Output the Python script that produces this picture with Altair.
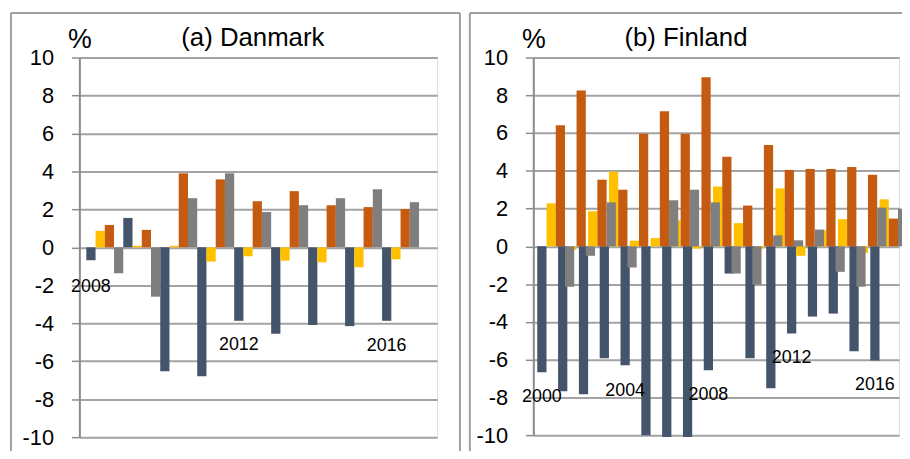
import altair as alt
import pandas as pd

series = ["s1", "s2", "s3", "s4"]
colors = ["#44546A", "#FFC000", "#C55A11", "#7F7F7F"]

dk_years = [2008, 2009, 2010, 2011, 2012, 2013, 2014, 2015, 2016]
dk_s1 = [-0.68, 1.55, -6.53, -6.79, -3.87, -4.55, -4.09, -4.15, -3.87]
dk_s2 = [0.87, 0.08, 0.08, -0.75, -0.47, -0.70, -0.79, -1.05, -0.63]
dk_s3 = [1.18, 0.92, 3.90, 3.58, 2.43, 2.96, 2.22, 2.12, 2.02]
dk_s4 = [-1.36, -2.60, 2.59, 3.90, 1.86, 2.22, 2.59, 3.06, 2.38]
dk_lab_years = [2008, 2012, 2016]
dk_lab_y = [-2.07, -5.17, -5.19]

fi_years = list(range(2000, 2017))
fi_s1 = [-6.67, -7.67, -7.83, -5.93, -6.30, -10.0, -10.1, -10.1, -6.56, -1.44,
         -5.93, -7.51, -4.61, -3.72, -3.56, -5.56, -6.04]
fi_s2 = [2.28, -0.17, 1.86, 3.96, 0.30, 0.44, 1.38, -0.12, 3.17, 1.23,
         -0.12, 3.07, -0.50, 0.86, 1.44, -0.35, 2.49]
fi_s3 = [6.42, 8.26, 3.53, 3.00, 5.96, 7.16, 5.96, 8.95, 4.74, 2.16,
         5.37, 4.05, 4.10, 4.10, 4.20, 3.79, 1.47]
fi_s4 = [-2.14, -0.50, 2.33, -1.12, 0.0, 2.44, 3.00, 2.33, -1.44, -2.02,
         0.58, 0.32, 0.89, -1.35, -2.14, 2.05, 2.00]
fi_lab_years = [2000, 2004, 2008, 2012, 2016]
fi_lab_y = [-7.98, -7.68, -7.89, -5.93, -7.37]

y_ticks = [-10, -8, -6, -4, -2, 0, 2, 4, 6, 8, 10]

FONT = "Liberation Sans"
GRID = "#a3a3a3"
AXISC = "#8c8c8c"
FRAME = "#a0a0a0"


def long_df(years, cols):
    rows = []
    for s, vals in zip(series, cols):
        for yr, v in zip(years, vals):
            rows.append({"year": yr, "series": s, "value": v})
    return pd.DataFrame(rows)


def panel(title, years, cols, lab_years, lab_y, width, height, po, al,
          title_x, frame_x, frame_x2, right_edge):
    df = long_df(years, cols)
    xs = alt.Scale(domain=years, paddingInner=0, paddingOuter=po, align=al)
    xo = alt.Scale(domain=series, paddingInner=0, paddingOuter=0)
    ys = alt.Scale(domain=[-10, 10], nice=False)
    yaxis = alt.Axis(values=y_ticks, tickCount=30, labelOverlap=False,
                     labelExpr="'' + datum.value",
                     labelFont=FONT, labelFontSize=22, labelColor="black",
                     labelPadding=18, tickSize=8, tickColor=AXISC, tickWidth=1.5,
                     domainColor=AXISC, domainWidth=2, gridColor=GRID, gridWidth=2,
                     title="%", titleAngle=0, titleX=0, titleY=-18,
                     titleAlign="center", titleBaseline="middle",
                     titleFont=FONT, titleFontSize=27, titleFontWeight="normal",
                     titleColor="black")

    one = pd.DataFrame({"k": [0]})
    layers = []
    base = alt.Chart(one)
    layers.append(base.mark_rule(color=FRAME, strokeWidth=2).encode(
        x=alt.value(frame_x), y=alt.value(-45), y2=alt.value(height + 30)))
    layers.append(base.mark_rule(color=FRAME, strokeWidth=2).encode(
        x=alt.value(frame_x), x2=alt.value(frame_x2), y=alt.value(-45)))
    if right_edge:
        layers.append(base.mark_rule(color=FRAME, strokeWidth=2).encode(
            x=alt.value(frame_x2), y=alt.value(-45), y2=alt.value(height + 30)))

    bars = alt.Chart(df).mark_bar().encode(
        x=alt.X("year:O", scale=xs, axis=None),
        xOffset=alt.XOffset("series:N", scale=xo),
        y=alt.Y("value:Q", scale=ys, axis=yaxis, stack=None),
        color=alt.Color("series:N", scale=alt.Scale(domain=series, range=colors),
                        legend=None),
    )

    ldf = pd.DataFrame({"year": lab_years, "y": lab_y,
                        "series": ["s1"] * len(lab_years),
                        "txt": [str(v) for v in lab_years]})
    labels = alt.Chart(ldf).mark_text(font=FONT, fontSize=18, color="black",
                                      align="center", baseline="middle").encode(
        x=alt.X("year:O", scale=xs, axis=None),
        xOffset=alt.XOffset("series:N", scale=xo),
        y=alt.Y("y:Q", scale=ys),
        text="txt:N",
    )

    ttl = base.mark_text(font=FONT, fontSize=26, color="black",
                         align="center", baseline="alphabetic",
                         text=title).encode(
        x=alt.value(title_x), y=alt.value(-11.5))

    layers += [bars, labels, ttl]
    return alt.layer(*layers).properties(width=width, height=height)


a = panel("(a) Danmark", dk_years, [dk_s1, dk_s2, dk_s3, dk_s4],
          dk_lab_years, dk_lab_y, 361, 383, 0.339, 0.277, 175, -69, 384, True)
b = panel("(b) Finland", fi_years, [fi_s1, fi_s2, fi_s3, fi_s4],
          fi_lab_years, fi_lab_y, 369, 381, 0.286, 0.333, 154, -64, 380, False)

# autosize "none": the svg is sized by the padding alone, so the padding sets
# the page area (902 x 443) and the plot origin (72, 48).
chart = alt.hconcat(a, b, spacing=97, bounds="flush").properties(
    autosize=alt.AutoSizeParams(type="none"),
    padding={"left": 72, "top": 48, "right": 830, "bottom": 395},
).configure_view(stroke=GRID, strokeWidth=2).configure(background="white")

chart.save("out.html", embed_options={"renderer": "svg", "actions": False})
